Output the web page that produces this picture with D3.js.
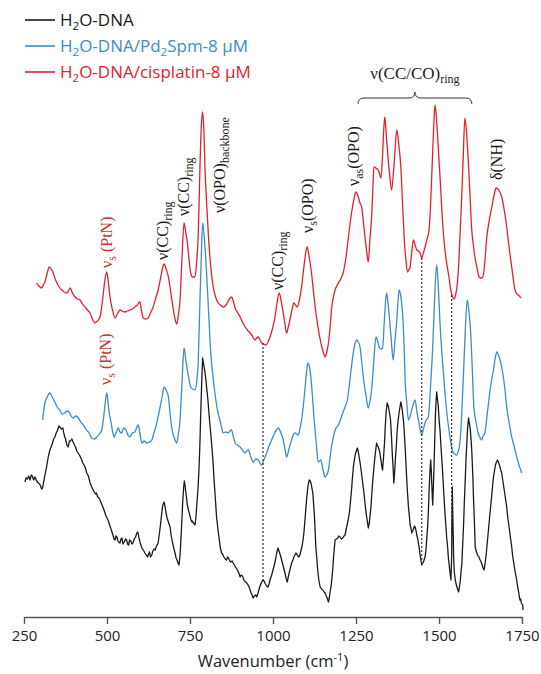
<!DOCTYPE html>
<html>
<head>
<meta charset="utf-8">
<script src="https://cdn.jsdelivr.net/npm/d3@7"></script>
<style>
  body { margin: 0; background: #fff; }
  svg { display: block; }
</style>
</head>
<body>
<svg id="chart" width="541" height="674"></svg>
<script>
// Raman spectra of hydrated DNA, stacked with vertical offsets (arbitrary units).
// Each point: [wavenumber cm-1, offset intensity]
const waterDNA = [
  [253,135],[256,139],[260,138],[264,141],[268,137],[272,142],[275,141],[279,137],[283,140],[288,136],[293,134],[297,133],[300,131],[303,128],[306,129],[312,140],[318,150],[323,160],[328,167],[335,173],[339,178],[343,180],
  [347,184],[350,186],[355,191],[358,190],[363,188],[367,189],[371,182],[375,178],[379,172],[383,170],[387,176],[390,176],[394,178],[398,175],[402,172],[405,170],[409,166],[413,164],[417,162],[420,160],[424,157],[427,154],[431,152],[434,150],[439,144],[444,141],
  [449,134],[454,130],[460,126],[465,123],[468,124],[472,120],[476,119],[479,117],[485,112],[490,108],[494,104],[497,101],[500,99],[503,97],[507,93],[512,88],[515,85],[518,82],[521,78],[524,77],[527,81],[530,80],[533,76],[535,75],[539,74],[542,78],[545,79],[548,73],[552,75],
  [556,78],[559,77],[562,73],[565,72],[568,77],[572,76],[575,73],[578,74],[582,78],[586,80],[590,84],[593,85],[597,78],[600,74],[604,70],[607,68],[611,66],[614,64],[618,62],[622,60],[625,63],[628,65],[631,60],[635,62],[638,66],[642,68],[645,67],[648,70],[651,72],[654,74],[658,84],[662,95],
  [665,104],[668,112],[672,115],[675,110],[678,104],[681,99],[684,96],[687,93],[690,90],[693,82],[697,75],[701,69],[705,64],[708,59],[711,57],[714,54],[717,52],[720,62],[723,80],[726,100],[728,115],[731,130],[733,136],[735,132],[737,126],[740,118],[742,112],[746,106],[750,101],
  [753,97],[756,95],[758,96],[760,94],[763,93],[765,92],[768,100],[770,110],[774,128],[777,147],[780,175],[782,200],[785,232],[788,259],[791,253],[795,245],[798,237],[800,230],[804,217],[808,200],[812,185],[816,170],[819,157],[822,140],[825,125],[828,110],[830,100],
  [834,88],[838,78],[841,70],[845,64],[848,63],[852,60],[856,58],[860,57],[863,60],[866,59],[870,56],[873,55],[877,56],[880,54],[884,52],[887,50],[891,48],[894,46],[897,44],[901,40],[904,42],[908,41],[911,38],[914,36],[918,35],[921,34],[925,32],[928,30],[931,27],[934,24],
  [937,22],[940,19],[944,21],[948,22],[951,20],[955,24],[958,28],[962,32],[966,35],[970,37],[973,36],[977,33],[981,31],[985,30],[988,33],[992,38],[996,42],[1000,47],[1004,52],[1008,58],[1011,64],[1015,69],[1018,66],[1022,62],[1026,57],[1030,52],[1033,48],[1036,44],
  [1040,38],[1043,35],[1046,40],[1050,46],[1053,50],[1056,54],[1060,57],[1063,60],[1066,62],[1069,64],[1072,63],[1075,61],[1078,60],[1081,62],[1084,66],[1087,70],[1090,76],[1093,84],[1097,100],[1101,117],[1105,130],[1109,137],
  [1112,136],[1115,133],[1120,124],[1125,100],[1129,70],[1132,58],[1135,46],[1138,37],[1142,30],[1146,28],[1150,27],[1154,25],[1157,24],[1160,21],[1162,20],[1165,17],[1167,15],[1170,20],[1172,25],[1175,31],[1177,37],[1180,48],[1182,58],
  [1185,70],[1187,77],[1191,78],[1195,79],[1198,81],[1202,80],[1206,78],[1210,79],[1214,81],[1217,82],[1220,87],[1223,92],[1227,98],[1230,104],[1233,114],[1236,125],[1239,138],[1242,150],[1245,157],[1248,163],[1251,166],[1254,169],[1256,167],[1258,163],[1260,159],[1262,155],
  [1265,148],[1268,140],[1271,132],[1274,124],[1277,114],[1280,105],[1284,96],[1287,89],[1290,94],[1292,100],[1295,110],[1297,120],[1300,134],[1304,150],[1308,163],[1312,174],[1314,172],[1317,170],[1320,167],[1322,164],[1326,155],[1328,150],[1330,147],
  [1333,160],[1336,175],[1338,190],[1341,206],[1344,214],[1346,212],[1348,210],[1351,204],[1354,197],[1357,180],[1359,165],[1362,148],[1364,134],[1367,148],[1369,160],[1372,174],[1374,187],[1377,197],[1380,205],[1383,211],[1385,215],[1388,210],[1390,205],
  [1393,196],[1395,187],[1398,170],[1401,150],[1404,130],[1408,110],[1411,100],[1413,92],[1416,88],[1418,84],[1421,86],[1423,88],[1426,91],[1428,90],[1431,86],[1433,82],[1436,78],[1438,74],[1441,68],[1443,62],[1446,56],[1448,52],[1451,54],[1453,55],[1456,58],[1458,60],
  [1461,68],[1463,78],[1466,92],[1468,105],[1470,125],[1472,140],[1474,152],[1475,157],[1477,145],[1478,135],[1480,120],[1481,112],[1483,130],[1485,150],[1487,175],[1489,200],[1491,215],[1493,225],[1495,219],[1498,210],[1500,198],[1503,187],[1506,170],[1510,150],
  [1514,126],[1518,104],[1521,90],[1523,80],[1526,70],[1528,60],[1530,54],[1532,48],[1534,42],[1536,37],[1538,60],[1540,130],[1541,110],[1543,80],[1544,60],[1546,45],[1548,40],[1549,37],[1551,34],[1554,30],[1556,28],[1559,25],[1561,29],[1564,36],
  [1566,44],[1569,54],[1571,70],[1574,92],[1576,112],[1579,137],[1581,155],[1584,175],[1586,188],[1589,199],[1591,195],[1594,188],[1597,176],[1599,164],[1602,140],[1604,118],[1607,92],[1609,70],[1612,66],[1616,62],[1620,60],[1624,57],[1627,55],[1630,52],[1633,49],[1636,47],
  [1639,54],[1642,62],[1645,73],[1649,87],[1652,98],[1656,112],[1660,126],[1664,140],[1667,146],[1670,152],[1673,155],[1676,157],[1679,155],[1682,152],[1686,147],[1689,144],[1692,137],[1696,128],[1700,119],[1704,110],[1707,100],[1711,90],[1715,80],[1719,70],
  [1722,61],[1726,52],[1730,44],[1734,37],[1737,30],[1740,25],[1742,20],[1744,17],[1746,18],[1748,14],[1750,13],[1752,12],[1753,7]
];
const pd2spmDNA = [
  [306,197],[313,214],[320,220],[328,224],[335,220],[343,215],[350,210],[358,207],[365,203],[373,204],[380,206],[386,205],[392,201],
  [398,199],[406,201],[414,199],[421,195],[429,192],[436,188],[444,185],[449,182],[454,179],[462,178],[469,180],[477,183],[484,187],
  [490,200],[495,215],[499,224],[504,212],[507,203],[511,197],[516,187],[521,180],[527,184],[534,189],[539,185],[544,184],[550,189],
  [557,187],[563,182],[569,180],[576,184],[584,185],[589,189],[594,192],[599,184],[605,174],[612,176],[620,174],[627,175],[635,177],
  [642,185],[650,194],[655,202],[660,210],[667,222],[672,230],[678,227],[685,220],[691,200],[698,184],[704,178],[710,174],[715,183],
  [720,197],[726,235],[732,269],[737,258],[742,247],[747,238],[752,230],[758,228],[765,227],[770,235],[775,257],[780,317],[784,360],
  [788,394],[794,375],[800,344],[806,305],[812,267],[818,244],[825,224],[832,208],[840,197],[845,190],[850,184],[858,185],[865,184],
  [870,186],[875,187],[880,181],[886,174],[893,172],[901,170],[908,167],[916,164],[921,166],[926,167],[933,160],[941,155],[948,158],
  [956,157],[961,154],[966,152],[970,155],[976,160],[981,164],[988,171],[996,177],[1005,184],[1016,189],[1024,184],[1031,177],[1036,168],
  [1041,160],[1048,168],[1056,177],[1061,182],[1066,184],[1071,183],[1076,182],[1081,188],[1086,197],[1091,210],[1096,227],[1101,245],
  [1105,254],[1110,250],[1114,240],[1119,220],[1124,197],[1130,175],[1136,155],[1140,156],[1144,157],[1150,148],[1157,140],[1162,142],
  [1167,147],[1172,160],[1177,172],[1182,180],[1187,187],[1192,190],[1197,192],[1204,198],[1210,204],[1217,210],[1224,217],[1232,238],
  [1240,260],[1246,272],[1252,277],[1257,275],[1262,270],[1267,256],[1272,240],[1280,222],[1287,209],[1292,216],[1297,227],[1304,258],
  [1310,280],[1315,276],[1320,270],[1325,268],[1330,269],[1336,300],[1342,324],[1347,312],[1352,294],[1357,274],[1362,257],[1367,275],
  [1373,297],[1377,318],[1380,327],[1386,318],[1391,300],[1395,270],[1398,237],[1403,214],[1408,197],[1413,201],[1418,207],[1423,213],
  [1428,217],[1433,206],[1438,197],[1443,188],[1448,182],[1453,188],[1458,194],[1463,198],[1468,200],[1474,228],[1481,270],[1487,320],
  [1493,352],[1498,330],[1503,294],[1510,258],[1518,224],[1525,200],[1533,180],[1538,170],[1543,164],[1548,163],[1553,162],[1558,166],
  [1563,174],[1568,200],[1573,237],[1579,285],[1585,317],[1590,306],[1595,287],[1600,250],[1605,210],[1612,194],[1618,184],[1623,180],
  [1628,177],[1633,181],[1638,184],[1646,205],[1654,227],[1659,238],[1664,247],[1669,258],[1674,265],[1681,260],[1689,250],[1697,232],
  [1704,210],[1712,193],[1719,180],[1727,170],[1734,160],[1741,152],[1749,144]
];
const cisplatinDNA = [
  [288,334],[295,331],[303,329],[308,332],[313,335],[320,344],[326,350],[332,348],[338,344],[343,339],[348,335],[356,330],[364,327],
  [371,325],[379,324],[384,326],[389,329],[396,324],[404,320],[411,318],[419,317],[426,313],[434,310],[441,307],[449,304],[456,298],
  [464,294],[471,296],[479,300],[484,310],[489,324],[494,338],[499,345],[504,335],[509,320],[516,308],[524,299],[531,303],[539,307],
  [546,306],[554,305],[561,306],[569,307],[577,308],[584,310],[591,312],[599,315],[604,306],[609,299],[616,298],[624,299],[631,304],
  [639,310],[646,318],[654,327],[662,340],[668,350],[672,353],[678,348],[685,340],[692,325],[700,307],[705,298],[710,293],[715,302],
  [720,317],[726,360],[732,394],[737,385],[742,374],[747,358],[752,344],[758,340],[765,340],[770,355],[775,384],[780,450],[784,490],
  [788,505],[792,485],[795,450],[800,415],[805,384],[812,352],[820,330],[827,320],[835,314],[842,312],[850,310],[856,311],[862,314],
  [869,318],[876,320],[881,315],[886,309],[894,304],[901,300],[908,295],[916,290],[923,287],[931,284],[938,281],[946,277],[951,279],
  [956,280],[961,277],[966,274],[972,273],[979,272],[985,275],[991,280],[998,288],[1006,300],[1012,314],[1019,324],[1025,315],[1031,304],
  [1036,293],[1041,284],[1046,290],[1051,297],[1057,307],[1063,314],[1068,312],[1073,310],[1080,318],[1086,330],[1093,350],[1099,365],
  [1103,370],[1109,360],[1116,344],[1123,322],[1131,300],[1139,283],[1147,270],[1152,264],[1157,260],[1162,265],[1167,274],[1172,290],
  [1177,310],[1182,320],[1187,327],[1192,331],[1197,334],[1204,338],[1212,345],[1220,360],[1228,382],[1236,403],[1244,418],[1250,425],
  [1255,422],[1262,414],[1267,410],[1272,396],[1277,380],[1282,366],[1287,355],[1292,378],[1297,400],[1301,430],[1304,450],[1310,449],
  [1317,447],[1321,443],[1325,439],[1330,462],[1334,490],[1337,500],[1341,483],[1347,457],[1352,440],[1357,427],[1364,450],[1369,474],
  [1373,487],[1379,472],[1385,450],[1390,415],[1395,380],[1400,358],[1405,345],[1409,347],[1413,350],[1418,365],[1423,377],[1428,372],
  [1433,367],[1438,366],[1443,364],[1448,359],[1453,364],[1458,370],[1464,378],[1470,387],[1475,415],[1480,457],[1484,490],[1488,512],
  [1492,500],[1497,474],[1504,435],[1511,394],[1517,370],[1523,354],[1530,340],[1536,326],[1540,321],[1545,318],[1550,322],[1554,330],
  [1558,345],[1563,380],[1568,417],[1573,460],[1578,499],[1583,485],[1588,457],[1593,425],[1598,390],[1603,373],[1608,360],[1614,350],
  [1621,340],[1626,339],[1632,340],[1638,355],[1644,380],[1651,396],[1659,410],[1666,422],[1672,429],[1680,427],[1689,420],[1696,408],
  [1704,390],[1711,370],[1719,350],[1725,335],[1729,327],[1735,323],[1739,322],[1747,319]
];

const seriesLabels = ["H₂O-DNA", "H₂O-DNA/Pd₂Spm-8 µM", "H₂O-DNA/cisplatin-8 µM"];
const seriesColors = ["#1a1a1a", "#3b8ccb", "#e5202c"];
const tickValues = [250, 500, 750, 1000, 1250, 1500, 1750];

// Marker lines linking equivalent bands between the top and bottom spectra
const guideWavenumbers = [970, 1448, 1538];
const guideTop = [274, 359, 322];
const guideBottom = [37, 54, 61];

// Band assignments written vertically above the peaks ("_{...}" = subscript)
const bandNames = ["ν_{s} (PtN)", "ν_{s} (PtN)", "ν(CC)_{ring}", "ν(CC)_{ring}", "ν(OPO)_{backbone}",
                   "ν(CC)_{ring}", "ν_{s}(OPO)", "ν_{as}(OPO)", "δ(NH)"];
const bandWavenumbers = [500, 497, 670, 732, 840, 1015, 1104, 1244, 1675];
const bandLevels = [349, 232, 357, 401, 404, 327, 384, 431, 437];
const bandIsPlatinum = [true, true, false, false, false, false, false, false, false];

// Bracketed group of ring modes
const ringGroupRange = [1256, 1599];
const ringGroupName = "ν(CC/CO)_{ring}";

const svg = d3.select("#chart");
const x = d3.scaleLinear().domain([250, 1750]).range([24, 522]);
const y = d3.scaleLinear().domain([0, 517]).range([617, 100]);

// Spectra: the reference spectrum is drawn point to point to keep its noise
const smooth = d3.line().x(d => x(d[0])).y(d => y(d[1])).curve(d3.curveMonotoneX);
const raw = d3.line().x(d => x(d[0])).y(d => y(d[1]));
[[waterDNA, raw], [pd2spmDNA, smooth], [cisplatinDNA, smooth]].forEach(([s, gen], i) => {
  svg.append("path").datum(s)
    .attr("fill", "none")
    .attr("stroke", seriesColors[i])
    .attr("stroke-width", 1.3)
    .attr("stroke-linejoin", "round")
    .attr("d", gen);
});

// Dotted guides
guideWavenumbers.forEach((w, i) => {
  svg.append("line")
    .attr("x1", x(w)).attr("x2", x(w))
    .attr("y1", y(guideTop[i])).attr("y2", y(guideBottom[i]))
    .attr("stroke", "#333").attr("stroke-width", 1.2)
    .attr("stroke-dasharray", "2,2");
});

// Text with "_{...}" subscripts
function richText(sel, str, mainSize, subSize, shift) {
  const parts = str.split(/(_\{[^}]*\})/).filter(p => p.length);
  let lowered = false;
  parts.forEach(p => {
    const isSub = p.startsWith("_{");
    const t = sel.append("tspan").text(isSub ? p.slice(2, -1) : p)
      .attr("font-size", isSub ? subSize : mainSize);
    if (isSub && !lowered) { t.attr("dy", shift); lowered = true; }
    else if (!isSub && lowered) { t.attr("dy", -shift); lowered = false; }
  });
}

// Vertical band labels
bandNames.forEach((name, i) => {
  const g = svg.append("g")
    .attr("transform", `translate(${x(bandWavenumbers[i]) + 5},${y(bandLevels[i])}) rotate(-90)`);
  const t = g.append("text")
    .attr("font-family", "'Liberation Serif', 'DejaVu Serif', serif")
    .attr("fill", bandIsPlatinum[i] ? "#c0392b" : "#1a1a1a")
    .attr("text-anchor", "start");
  richText(t, name, 16, 12, 4);
});

// Brace over the ring-mode region
(function () {
  const x0 = x(ringGroupRange[0]), x1 = x(ringGroupRange[1]), xm = (x0 + x1) / 2;
  const yb = 98;
  svg.append("path")
    .attr("d", `M${x0},${yb + 6} Q${x0},${yb} ${x0 + 6},${yb} L${xm - 6},${yb} Q${xm},${yb} ${xm},${yb - 6}` +
               ` Q${xm},${yb} ${xm + 6},${yb} L${x1 - 6},${yb} Q${x1},${yb} ${x1},${yb + 6}`)
    .attr("fill", "none").attr("stroke", "#333").attr("stroke-width", 1);
  const t = svg.append("text")
    .attr("x", xm).attr("y", 79)
    .attr("text-anchor", "middle")
    .attr("font-family", "'Liberation Serif', 'DejaVu Serif', serif")
    .attr("fill", "#1a1a1a");
  richText(t, ringGroupName, 17, 12, 4);
})();

// Wavenumber axis
const axis = svg.append("g")
  .attr("transform", `translate(0,${y(0)})`)
  .call(d3.axisBottom(x).tickValues(tickValues).tickFormat(d3.format("d")).tickSize(7).tickSizeOuter(0).tickPadding(6));
axis.select(".domain").attr("stroke", "#555").attr("stroke-width", 1.6);
axis.selectAll(".tick line").attr("stroke", "#555").attr("stroke-width", 1.4);
axis.selectAll(".tick text")
  .attr("font-family", "'Open Sans', sans-serif").attr("font-size", 15).attr("fill", "#222");

const title = svg.append("text")
  .attr("x", (x(250) + x(1750)) / 2).attr("y", 667)
  .attr("text-anchor", "middle")
  .attr("font-family", "'Open Sans', sans-serif").attr("font-size", 16.5).attr("fill", "#222");
title.append("tspan").text("Wavenumber (cm");
title.append("tspan").text("-1").attr("font-size", 11).attr("dy", -6);
title.append("tspan").text(")").attr("dy", 6);

// Legend
const legendRows = [20, 46, 72];
seriesLabels.forEach((lab, i) => {
  const yy = legendRows[i];
  svg.append("line").attr("x1", 25).attr("x2", 55).attr("y1", yy).attr("y2", yy)
    .attr("stroke", seriesColors[i]).attr("stroke-width", 1.6);
  const t = svg.append("text").attr("x", 60).attr("y", yy + 6)
    .attr("font-family", "'Open Sans', sans-serif").attr("font-size", 17)
    .attr("fill", seriesColors[i]);
  // subscript digits drawn lowered and smaller
  const segs = lab.split(/([₂])/).filter(s => s.length);
  let low = false;
  segs.forEach(s => {
    if (s === "₂") {
      t.append("tspan").text("2").attr("font-size", 11.5).attr("dy", 4);
      low = true;
    } else {
      const sp = t.append("tspan").text(s);
      if (low) { sp.attr("dy", -4); low = false; }
    }
  });
});
</script>
</body>
</html>
